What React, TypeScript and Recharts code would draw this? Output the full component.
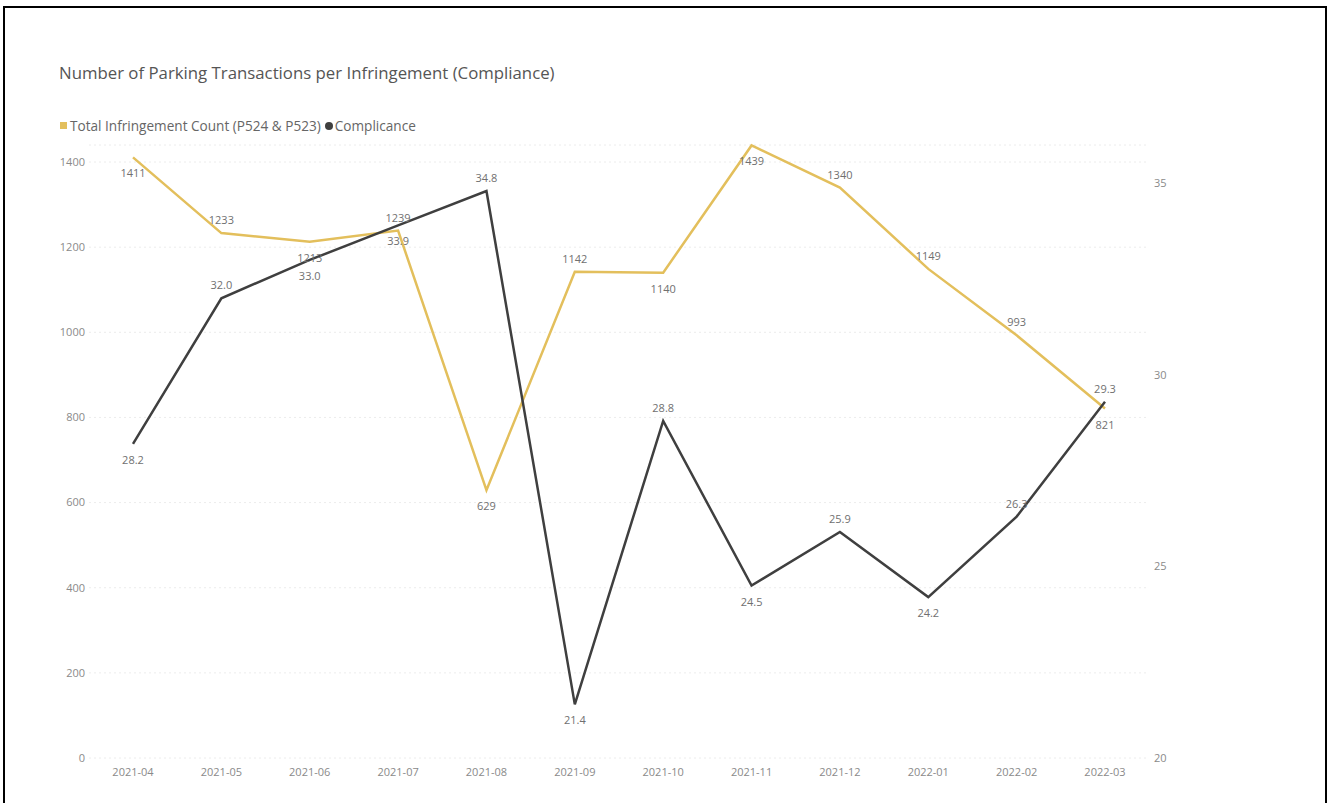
import { LineChart, Line, XAxis, YAxis, CartesianGrid, LabelList } from "recharts";

const months = [
  "2021-04", "2021-05", "2021-06", "2021-07", "2021-08", "2021-09",
  "2021-10", "2021-11", "2021-12", "2022-01", "2022-02", "2022-03",
];
const infringements = [1411, 1233, 1213, 1239, 629, 1142, 1140, 1439, 1340, 1149, 993, 821];
const compliance = [28.2, 32.0, 33.0, 33.9, 34.8, 21.4, 28.8, 24.5, 25.9, 24.2, 26.3, 29.3];
const leftTicks = [0, 200, 400, 600, 800, 1000, 1200, 1400];
const rightTicks = [20, 25, 30, 35];

// where each data label sits relative to its point
const infLabelSide = ["below", "above", "below", "above", "below", "above", "below", "below", "above", "above", "above", "below"];
const compLabelSide = ["below", "above", "below", "below", "above", "below", "above", "below", "above", "below", "above", "above"];

const YELLOW = "#E3BF5C";
const DARK = "#3f3f3f";
const FONT = "'Open Sans', 'Segoe UI', sans-serif";

const data = months.map((m, i) => ({
  month: m,
  infringements: infringements[i],
  compliance: compliance[i],
}));

function makeLabel(sides: string[], fmt: (v: number) => string) {
  return (props: any) => {
    const { x, y, value, index } = props;
    const above = sides[index] === "above";
    return (
      <text
        x={x}
        y={above ? y - 9 : y + 20}
        textAnchor="middle"
        fontSize={11}
        fontFamily={FONT}
        fill="#707070"
      >
        {fmt(value)}
      </text>
    );
  };
}

export default function App() {
  return (
    <div style={{ position: "absolute", left: 0, top: 0, width: 1328, height: 803, background: "#fff", fontFamily: FONT }}>
      <div
        style={{
          position: "absolute",
          left: 3,
          top: 6,
          width: 1320,
          height: 800,
          borderLeft: "2px solid #000",
          borderTop: "2px solid #000",
          borderRight: "2px solid #000",
        }}
      />
      <div style={{ position: "absolute", left: 59, top: 61, fontSize: 16.8, color: "#555", whiteSpace: "nowrap" }}>
        Number of Parking Transactions per Infringement (Compliance)
      </div>
      <div style={{ position: "absolute", left: 60, top: 116, fontSize: 13.6, color: "#666", display: "flex", alignItems: "center", whiteSpace: "nowrap" }}>
        <span style={{ display: "inline-block", width: 7, height: 7, background: YELLOW, marginRight: 3 }} />
        <span>Total Infringement Count (P524 &amp; P523)</span>
        <span style={{ display: "inline-block", width: 8, height: 8, borderRadius: 4, background: DARK, margin: "0 2px 0 4px" }} />
        <span>Complicance</span>
      </div>
      <div style={{ position: "absolute", left: 0, top: 0 }}>
        <LineChart width={1328} height={803} data={data} margin={{ top: 145, right: 0, left: 0, bottom: 15 }}>
          <CartesianGrid yAxisId="left" vertical={false} stroke="#ececec" strokeDasharray="2 3" />
          <XAxis
            dataKey="month"
            padding={{ left: 44, right: 44 }}
            tickLine={false}
            axisLine={false}
            tickSize={0}
            tickMargin={10}
            height={30}
            interval={0}
            tick={{ fontSize: 11, fill: "#8a8a8a", fontFamily: FONT }}
          />
          <YAxis
            yAxisId="left"
            domain={[0, 1440]}
            ticks={leftTicks}
            width={89}
            tickLine={false}
            axisLine={false}
            tickSize={0}
            tickMargin={4}
            tick={{ fontSize: 11, fill: "#8a8a8a", fontFamily: FONT }}
          />
          <YAxis
            yAxisId="right"
            orientation="right"
            domain={[20, 36]}
            ticks={rightTicks}
            width={179}
            tickLine={false}
            axisLine={false}
            tickSize={0}
            tickMargin={5}
            tick={{ fontSize: 11, fill: "#8a8a8a", fontFamily: FONT, textAnchor: "start" }}
          />
          <Line
            yAxisId="left"
            type="linear"
            dataKey="infringements"
            stroke={YELLOW}
            strokeWidth={2.5}
            dot={false}
            isAnimationActive={false}
          >
            <LabelList dataKey="infringements" content={makeLabel(infLabelSide, (v) => String(v))} />
          </Line>
          <Line
            yAxisId="right"
            type="linear"
            dataKey="compliance"
            stroke={DARK}
            strokeWidth={2.5}
            dot={false}
            isAnimationActive={false}
          >
            <LabelList dataKey="compliance" content={makeLabel(compLabelSide, (v) => v.toFixed(1))} />
          </Line>
        </LineChart>
      </div>
    </div>
  );
}
